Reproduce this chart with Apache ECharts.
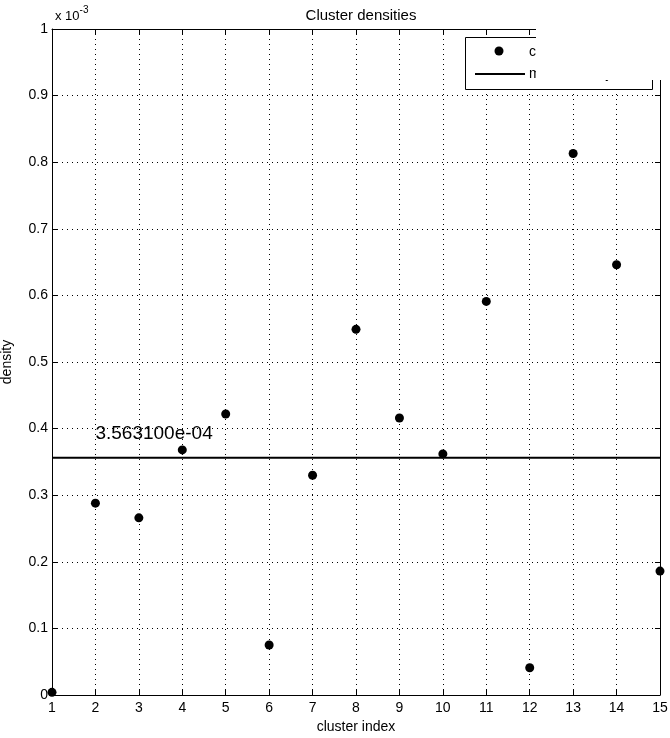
<!DOCTYPE html>
<html>
<head>
<meta charset="utf-8">
<script src="https://cdn.jsdelivr.net/npm/echarts@6/dist/echarts.min.js"></script>
<style>
html,body{margin:0;padding:0;background:#fff;}
#chart{width:670px;height:738px;}
</style>
</head>
<body>
<div id="chart"></div>
<script>
// Data (density values, in units of 1e-3)
var clusterIndex = [1,2,3,4,5,6,7,8,9,10,11,12,13,14,15];
var densityE3 = [0.004,0.288,0.266,0.368,0.422,0.075,0.330,0.549,0.416,0.362,0.591,0.041,0.813,0.646,0.186];
var meanDensity = 3.5631e-4;
var meanLabel = '3.563100e-04';
var legendNames = ['cluster density','mean density'];

var FONT = 'Liberation Sans';
var points = clusterIndex.map(function(x,i){ return [x, densityE3[i]*1e-3]; });
var meanLine = [[clusterIndex[0], meanDensity],[clusterIndex[clusterIndex.length-1], meanDensity]];

var chart = echarts.init(document.getElementById('chart'), null, {renderer:'canvas'});

var dotted = {show:true, lineStyle:{color:'#000', type:[1,4], width:1}};

var option = {
  backgroundColor:'#fff',
  animation:false,
  title:{text:'Cluster densities', left:356, textAlign:'center', top:3,
    textStyle:{fontFamily:FONT, fontSize:15, fontWeight:'normal', color:'#000'}},
  grid:{left:52, right:10, top:29, bottom:43, containLabel:false, outerBoundsMode:'none'},
  xAxis:[{
    type:'value', min:1, max:15, interval:1, position:'bottom',
    name:'cluster index', nameLocation:'middle', nameGap:25,
    nameTextStyle:{fontFamily:FONT, fontSize:14, color:'#000'},
    axisLine:{show:true, onZero:false, lineStyle:{color:'#000', width:1}},
    axisTick:{show:true, inside:true, length:5, lineStyle:{color:'#000'}},
    axisLabel:{fontFamily:FONT, fontSize:14, color:'#000', margin:6},
    splitLine:dotted
  },{
    type:'value', min:1, max:15, interval:1, position:'top',
    axisLine:{show:true, onZero:false, lineStyle:{color:'#000', width:1}},
    axisTick:{show:true, inside:true, length:5, lineStyle:{color:'#000'}},
    axisLabel:{show:false}, splitLine:{show:false}
  }],
  yAxis:[{
    type:'value', min:0, max:1e-3, interval:1e-4, position:'left',
    name:'density', nameLocation:'middle', nameGap:38, nameRotate:90,
    nameTextStyle:{fontFamily:FONT, fontSize:14, color:'#000'},
    axisLine:{show:true, onZero:false, lineStyle:{color:'#000', width:1}},
    axisTick:{show:true, inside:true, length:5, lineStyle:{color:'#000'}},
    axisLabel:{fontFamily:FONT, fontSize:14, color:'#000', margin:4,
      formatter:function(v){ var t = Math.round(v*1e4)/10; return String(t); }},
    splitLine:dotted
  },{
    type:'value', min:0, max:1e-3, interval:1e-4, position:'right',
    axisLine:{show:true, onZero:false, lineStyle:{color:'#000', width:1}},
    axisTick:{show:true, inside:true, length:5, lineStyle:{color:'#000'}},
    axisLabel:{show:false}, splitLine:{show:false}
  }],
  series:[{
    name:legendNames[0], type:'scatter', xAxisIndex:0, yAxisIndex:0,
    data:points, symbol:'circle', symbolSize:9,
    itemStyle:{color:'#000', opacity:1}, z:5
  },{
    name:legendNames[1], type:'line', xAxisIndex:0, yAxisIndex:0,
    data:meanLine, symbol:'none', lineStyle:{color:'#000', width:2}, z:4
  }]
};
chart.setOption(option);

// Positions derived from the axes
var labelPos = chart.convertToPixel({xAxisIndex:0, yAxisIndex:0}, [2, meanDensity]);
chart.setOption({
  graphic:[
    {type:'text', left:55, top:5, z:10,
      style:{text:'{a|x 10}{b|-3}', rich:{
        a:{fontFamily:FONT, fontSize:13, fill:'#000', verticalAlign:'bottom'},
        b:{fontFamily:FONT, fontSize:10, fill:'#000', verticalAlign:'top', padding:[0,0,8,0]}
      }}},
    {type:'text', x:labelPos[0], y:labelPos[1]-14, z:10,
      style:{text:meanLabel, fontFamily:FONT, fontSize:19, fill:'#000', textVerticalAlign:'bottom', textAlign:'left'}},
    // legend box
    {type:'rect', z:20, shape:{x:465.5, y:37.5, width:187, height:52},
      style:{fill:'#fff', stroke:'#000', lineWidth:1}},
    {type:'circle', z:21, shape:{cx:499, cy:51, r:4.5}, style:{fill:'#000'}},
    {type:'line', z:21, shape:{x1:475, y1:74, x2:525, y2:74}, style:{stroke:'#000', lineWidth:2}},
    {type:'text', z:21, x:529, y:52, style:{text:legendNames[0], fontFamily:FONT, fontSize:14, fill:'#000', textVerticalAlign:'middle'}},
    {type:'text', z:21, x:529, y:74, style:{text:legendNames[1], fontFamily:FONT, fontSize:14, fill:'#000', textVerticalAlign:'middle'}},
    // overlapping white region at top right
    {type:'rect', z:30, shape:{x:536, y:0, width:134, height:80}, style:{fill:'#fff'}}
  ]
});
</script>
</body>
</html>
